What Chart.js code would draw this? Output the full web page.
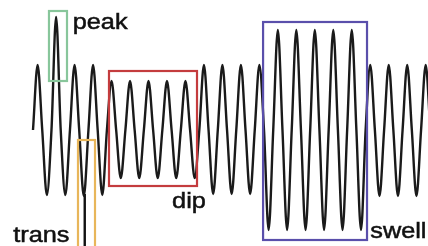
<!DOCTYPE html>
<html>
<head>
<meta charset="utf-8">
<script src="https://cdn.jsdelivr.net/npm/chart.js@4.4.0/dist/chart.umd.min.js"></script>
<style>
  body { margin:0; background:#fff; }
  #wrap { width:428px; height:246px; position:relative; }
</style>
</head>
<body>
<div id="wrap"><canvas id="myChart"></canvas></div>
<script>
// crest / trough heights of each half cycle (center line = 0)
var crests  = [65,113,65,65, 49,49,49,49,49, 65,65,65,65, 100,100,100,100,100, 65,65,65,65];
var troughs = [-65,-65,-66,-65, -48,-48,-48,-48,-48, -64,-64,-64, -100,-100,-100,-100,-100,-100, -66,-66,-66];
// the thin transient line dropping out of the 3rd trough
var transX = [11.2, 11.2];
var transY = [-64, -120];

// boxes + their words
var marks = [
  {text:'peak',  color:'#88c69b', x0:3.46,  x1:7.36,  y0:119, y1:49,   tx:8.6,  ty:101, align:'left'},
  {text:'trans', color:'#e8b65a', x0:9.74,  x1:13.42, y0:-10, y1:-125, tx:7.9,  ty:-112, align:'right'},
  {text:'dip',   color:'#c43c3e', x0:16.45, x1:35.5,  y0:59,  y1:-56,  tx:30.1, ty:-78, align:'left'},
  {text:'swell', color:'#5a4fab', x0:49.8,  x1:72.3,  y0:108, y1:-110, tx:73.0, ty:-108, align:'left'}
];

// wave samples: center, crest, center, trough, ...
var pts = [];
var i = 0;
for (let k = 0; k < crests.length; k++) {
  pts.push({x:i++, y:0});
  pts.push({x:i++, y:crests[k]});
  pts.push({x:i++, y:0});
  if (k < troughs.length) pts.push({x:i++, y:troughs[k]});
}
var spike = transX.map(function(x, j) { return {x:x, y:transY[j]}; });

var boxPlugin = {
  id: 'boxes',
  afterDatasetsDraw: function(chart) {
    let ctx = chart.ctx;
    let xs = chart.scales.x, ys = chart.scales.y;
    ctx.save();
    marks.forEach(function(m) {
      let l = xs.getPixelForValue(m.x0), r = xs.getPixelForValue(m.x1);
      let t = ys.getPixelForValue(m.y0), b = ys.getPixelForValue(m.y1);
      ctx.strokeStyle = m.color;
      ctx.lineWidth = 2.2;
      ctx.strokeRect(l, t, r - l, b - t);
      ctx.save();
      ctx.translate(xs.getPixelForValue(m.tx), ys.getPixelForValue(m.ty));
      ctx.scale(1.15, 1);
      ctx.fillStyle = '#111';
      ctx.strokeStyle = '#111';
      ctx.lineWidth = 0.5;
      ctx.font = '22px "Liberation Sans", Arial, sans-serif';
      ctx.textAlign = m.align;
      ctx.textBaseline = 'alphabetic';
      ctx.fillText(m.text, 0, 0);
      ctx.strokeText(m.text, 0, 0);
      ctx.restore();
    });
    ctx.restore();
  }
};

new Chart(document.getElementById('myChart'), {
  type: 'line',
  data: {
    datasets: [{
      data: pts,
      borderColor: '#1a1a1a',
      borderWidth: 2.4,
      pointRadius: 0,
      cubicInterpolationMode: 'monotone',
      fill: false,
      clip: false
    }, {
      data: spike,
      borderColor: '#111',
      borderWidth: 2.4,
      pointRadius: 0,
      fill: false,
      clip: false
    }]
  },
  options: {
    responsive: true,
    maintainAspectRatio: false,
    animation: false,
    layout: { padding: 0 },
    plugins: { legend: {display:false}, tooltip: {enabled:false} },
    scales: {
      x: { type:'linear', display:false, min:-7.143, max:85.5 },
      y: { display:false, min:-116, max:130 }
    }
  },
  plugins: [boxPlugin]
});
</script>
</body>
</html>
